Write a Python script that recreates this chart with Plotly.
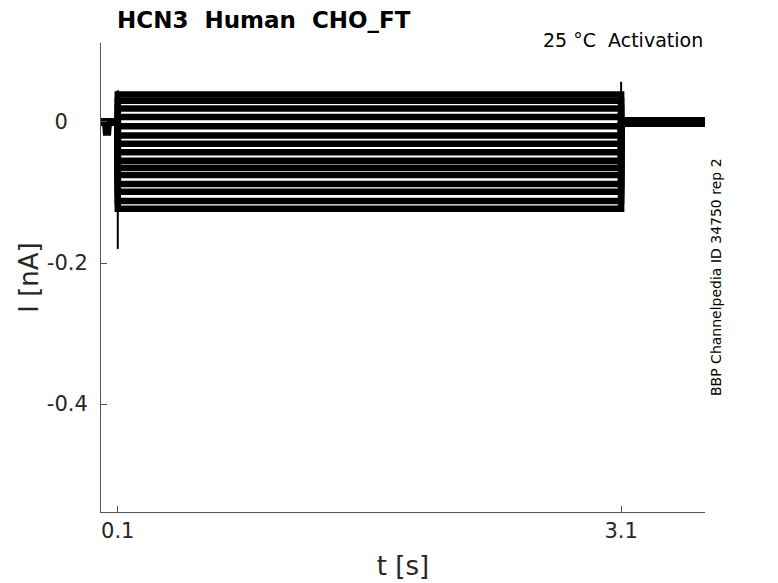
import plotly.graph_objects as go

# ---- data ----
pulse_on = 0.1
pulse_off = 3.1
t_end = 3.6
# steady current level of each sweep during the pulse [nA]
sweep_levels = [0.039, 0.030, 0.019, 0.007, -0.006, -0.019, -0.031, -0.043,
                -0.055, -0.065, -0.075, -0.088, -0.099, -0.112, -0.123]
# pre-pulse baseline (with small artefact)
pre_t = [0.0, 0.030, 0.036, 0.042, 0.1]
pre_i = [0.0, 0.0, -0.019, 0.0, 0.0]
# post-pulse baseline
post_t = [3.1, 3.6]
post_i = [0.0, 0.0]
# capacitive spikes
onset_spike_t = [0.1, 0.1]
onset_spike_i = [0.045, -0.18]
offset_spike_t = [3.1, 3.1]
offset_spike_i = [-0.126, 0.057]

x_ticks = [0.1, 3.1]
x_ticklabels = ["0.1", "3.1"]
y_ticks = [0, -0.2, -0.4]
y_ticklabels = ["0\u00a0\u00a0\u00a0", "-0.2", "-0.4"]

fig = go.Figure()

for lv in sweep_levels:
    fig.add_trace(go.Scatter(
        x=[pulse_on, pulse_on, pulse_off, pulse_off],
        y=[0.0, lv, lv, 0.0],
        mode="lines", line=dict(color="black", width=6.5),
        hoverinfo="skip", showlegend=False))

fig.add_trace(go.Scatter(x=pre_t, y=pre_i, mode="lines",
                         line=dict(color="black", width=8), showlegend=False))
fig.add_trace(go.Scatter(x=post_t, y=post_i, mode="lines",
                         line=dict(color="black", width=10), showlegend=False))
fig.add_trace(go.Scatter(x=onset_spike_t, y=onset_spike_i, mode="lines",
                         line=dict(color="black", width=2), showlegend=False))
fig.add_trace(go.Scatter(x=offset_spike_t, y=offset_spike_i, mode="lines",
                         line=dict(color="black", width=2), showlegend=False))

axis_col = "#555555"
txt_col = "#262626"

fig.update_layout(
    width=778, height=583,
    margin=dict(l=93, r=81, t=35, b=79),
    paper_bgcolor="white", plot_bgcolor="white",
    font=dict(family="DejaVu Sans", color=txt_col),
    xaxis=dict(range=[0, t_end], tickvals=x_ticks, ticktext=x_ticklabels,
               showgrid=False, zeroline=False, showline=True,
               linecolor=axis_col, linewidth=1, ticks="inside", ticklen=6,
               tickcolor=axis_col, tickfont=dict(size=21, color=txt_col),
               title=dict(text="t [s]", font=dict(size=26, color=txt_col), standoff=14)),
    yaxis=dict(range=[-0.553, 0.112], tickvals=y_ticks, ticktext=y_ticklabels,
               showgrid=False, zeroline=False, showline=True,
               linecolor=axis_col, linewidth=1, ticks="inside", ticklen=6,
               tickcolor=axis_col, tickfont=dict(size=21, color=txt_col),
               ticklabelstandoff=8,
               title=dict(text="I [nA]", font=dict(size=26, color=txt_col), standoff=0)),
    annotations=[
        dict(text="<b>HCN3\u00a0\u00a0Human\u00a0\u00a0CHO_FT</b>", xref="paper", yref="paper",
             x=(115 - 101) / 604, y=1 + (43 - 20) / 469, xanchor="left", yanchor="middle",
             showarrow=False, font=dict(size=23, color="black")),
        dict(text="25 °C\u00a0\u00a0Activation", xref="paper", yref="paper",
             x=1.0, y=1 + (43 - 40) / 469, xanchor="right", yanchor="middle",
             showarrow=False, font=dict(size=19, color="black")),
        dict(text="BBP Channelpedia ID 34750 rep 2", xref="paper", yref="paper",
             x=1 + (716 - 705) / 604, y=(512 - 277) / 469, xanchor="center", yanchor="middle",
             textangle=-90, showarrow=False, font=dict(size=14, color="black")),
    ],
)

fig.write_html("out.html")
